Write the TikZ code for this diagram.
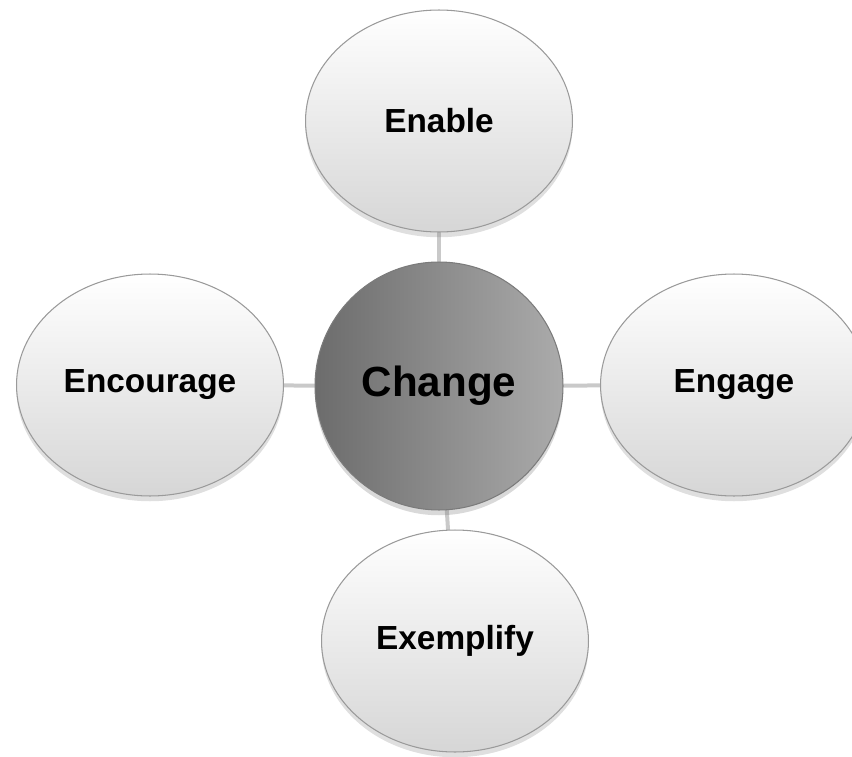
\documentclass[tikz,border=0pt]{standalone}
\usepackage{fontspec}
\setmainfont{Liberation Sans}
\usepackage{tikz}
\usepackage{xcolor}
\usetikzlibrary{shapes.geometric}
\usetikzlibrary{shadows}

\definecolor{rimgray}{HTML}{9A9A9A}
\definecolor{linkgray}{HTML}{C9C9C9}
\definecolor{coredark}{HTML}{6C6C6C}
\definecolor{corelight}{HTML}{ABABAB}
\definecolor{bubblelow}{HTML}{D6D6D6}

\tikzset{
    bubble/.style={ellipse, draw=rimgray, line width=0.6pt,
        minimum width=5.34cm, minimum height=4.44cm,
        top color=white, bottom color=bubblelow,
        drop shadow={opacity=0.25, shadow xshift=0pt, shadow yshift=-3pt},
        font=\fontsize{19}{22}\selectfont\bfseries},
    core/.style={circle, draw=rimgray!80!black, line width=0.6pt,
        minimum size=4.96cm,
        left color=coredark, right color=corelight,
        drop shadow={opacity=0.3, shadow xshift=0pt, shadow yshift=-3pt},
        font=\fontsize{24}{28}\selectfont\bfseries},
    link/.style={draw=linkgray, line width=0.08cm}
}

\begin{document}
\begin{tikzpicture}[x=0.02cm, y=-0.02cm]
        %Frame
            \useasboundingbox (0,0) rectangle (852,757);
        %Links
            \path coordinate (c) at (439,386);
            \draw[link] (c) -- (439,121);
            \draw[link] (c) -- (150,385);
            \draw[link] (c) -- (734,385);
            \draw[link] (c) -- (455,641);
        %Outer bubbles
            \node[bubble] (enable) at (439,121) {Enable};
            \node[bubble] (encourage) at (150,385) {Encourage};
            \node[bubble] (engage) at (734,385) {Engage};
            \node[bubble] (exemplify) at (455,641) {Exemplify};
        %Center
            \node[core] (change) at (c) {Change};
\end{tikzpicture}
\end{document}
